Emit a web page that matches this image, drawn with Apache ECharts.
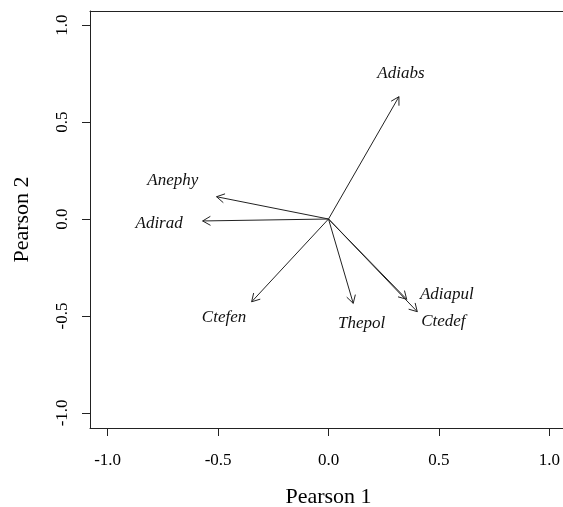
<!DOCTYPE html>
<html>
<head>
<meta charset="utf-8">
<script src="https://cdn.jsdelivr.net/npm/echarts@6/dist/echarts.min.js"></script>
<style>html,body{margin:0;padding:0;background:#fff;}#c{width:563px;height:507px;}</style>
</head>
<body>
<div id="c"></div>
<script>
const names = ['Adiabs','Anephy','Adirad','Ctefen','Thepol','Adiapul','Ctedef'];
const arrowX = [0.319,-0.507,-0.570,-0.348,0.112,0.354,0.402];
const arrowY = [0.631,0.115,-0.010,-0.427,-0.435,-0.414,-0.478];
const labelX = [0.328,-0.705,-0.767,-0.473,0.150,0.536,0.520];
const labelY = [0.751,0.198,-0.022,-0.507,-0.538,-0.392,-0.530];
const tickValues = [-1,-0.5,0,0.5,1];

const FONT = '"Liberation Serif","DejaVu Serif",serif';
const chart = echarts.init(document.getElementById('c'));

const arrowData = names.map((n,i)=>({name:n, value:[arrowX[i], arrowY[i]]}));
const labelData = names.map((n,i)=>({name:n, value:[labelX[i], labelY[i]]}));

function axisCommon(){
  return {
    type:'value',
    splitLine:{show:false},
    axisLine:{show:true, onZero:false, lineStyle:{color:'#222', width:1}},
    axisTick:{show:true, length:8, customValues:tickValues, lineStyle:{color:'#222', width:1}},
    axisLabel:{customValues:tickValues, formatter:v=>Number(v).toFixed(1), color:'#000', fontFamily:FONT, fontSize:17},
    nameLocation:'middle',
    nameTextStyle:{fontFamily:FONT, fontSize:22, color:'#000'}
  };
}

const xAxis = Object.assign(axisCommon(), {min:-1.08, max:1.08, name:'Pearson 1', nameGap:58});
xAxis.axisLabel.margin = 24;
const xTop = {type:'value', position:'top', min:-1.08, max:1.08, splitLine:{show:false},
  axisLine:{show:true, onZero:false, lineStyle:{color:'#222', width:1}}, axisTick:{show:false}, axisLabel:{show:false}};
const yAxis = Object.assign(axisCommon(), {min:-1.078, max:1.073, name:'Pearson 2', nameGap:57});
yAxis.axisLabel.rotate = 90;
yAxis.axisLabel.margin = 19;

chart.setOption({
  animation:false,
  backgroundColor:'#fff',
  grid:{left:90, top:11, width:477, height:417, outerBoundsMode:'none', containLabel:false, show:false},
  xAxis: [xAxis, xTop],
  yAxis: yAxis,
  series:[
    {
      type:'custom',
      data:arrowData,
      renderItem:function(params, api){
        const o = api.coord([0,0]);
        const t = api.coord([api.value(0), api.value(1)]);
        const ang = Math.atan2(t[1]-o[1], t[0]-o[0]);
        const L = 9, a = Math.PI/6;
        const p1 = [t[0]-L*Math.cos(ang-a), t[1]-L*Math.sin(ang-a)];
        const p2 = [t[0]-L*Math.cos(ang+a), t[1]-L*Math.sin(ang+a)];
        return {type:'group', children:[
          {type:'line', shape:{x1:o[0], y1:o[1], x2:t[0], y2:t[1]}, style:{stroke:'#222', lineWidth:1}},
          {type:'polyline', shape:{points:[p1, t, p2]}, style:{stroke:'#222', fill:null, lineWidth:1}}
        ]};
      }
    },
    {
      type:'custom',
      data:labelData,
      renderItem:function(params, api){
        const p = api.coord([api.value(0), api.value(1)]);
        return {type:'text', x:p[0], y:p[1], style:{
          text:names[params.dataIndex], fontFamily:FONT, fontSize:17, fontStyle:'italic',
          fill:'#111', align:'center', verticalAlign:'middle'
        }};
      }
    }
  ]
});
</script>
</body>
</html>
